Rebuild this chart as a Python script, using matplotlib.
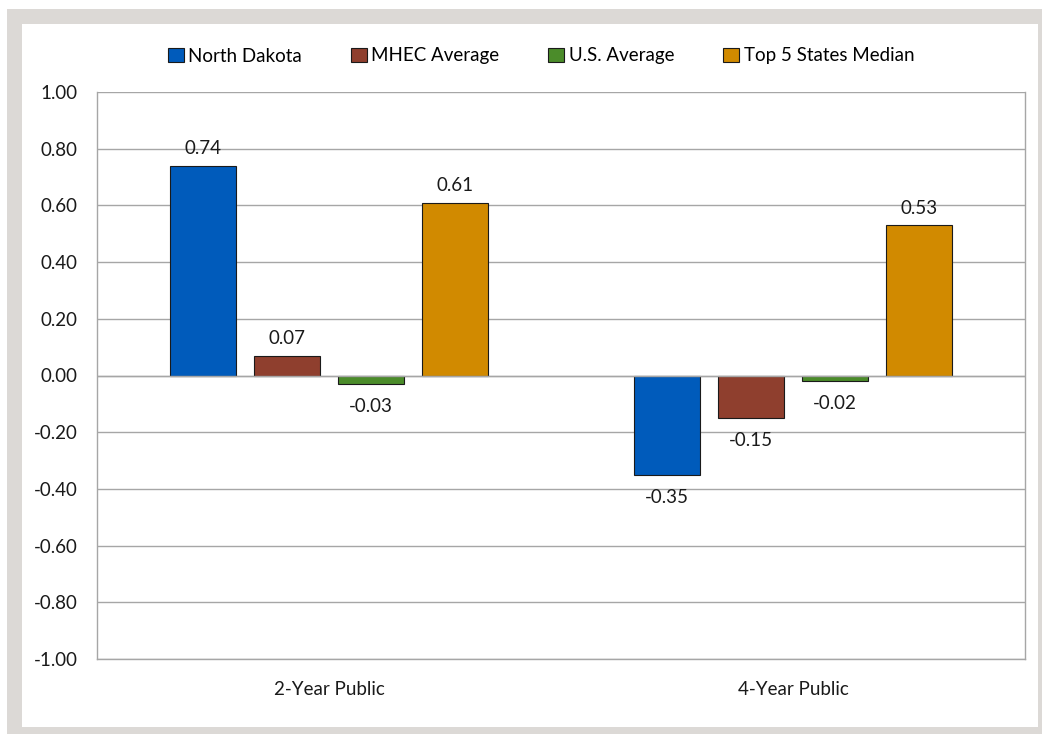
#!/usr/bin/env python3

from matplotlib import pyplot as plt
from matplotlib.patches import Rectangle
import numpy as np

categories = ["2-Year Public", "4-Year Public"]
series_names = ["North Dakota", "MHEC Average", "U.S. Average", "Top 5 States Median"]
north_dakota = [0.74, -0.35]
mhec_average = [0.07, -0.15]
us_average = [-0.03, -0.02]
top5_median = [0.61, 0.53]
y_ticks = [-1.0, -0.8, -0.6, -0.4, -0.2, 0.0, 0.2, 0.4, 0.6, 0.8, 1.0]

colors = ["#005BBB", "#8F3F2E", "#4B8C2A", "#D18A00"]
FS = 13.5


def main():
    plt.rcParams["font.family"] = ["Lato", "DejaVu Sans"]
    fig = plt.figure(figsize=(10.42, 7.34), dpi=100)

    # grey outer frame with white panel inside
    fig.patches.append(Rectangle((7 / 1042, 0), 1 - 7 / 1042, 1 - 9 / 734,
                                 transform=fig.transFigure, facecolor="#DCD9D6",
                                 edgecolor="none", zorder=-2))
    fig.patches.append(Rectangle((22 / 1042, 7 / 734), (1038 - 22) / 1042,
                                 (727 - 24) / 734, transform=fig.transFigure,
                                 facecolor="white", edgecolor="none", zorder=-1))

    ax = fig.add_axes([97 / 1042, 1 - 659 / 734, (1025 - 97) / 1042, (659 - 92) / 734])

    values = [north_dakota, mhec_average, us_average, top5_median]
    x = np.arange(len(categories))
    width = 0.144
    step = 0.181
    offsets = (np.arange(4) - 1.5) * step

    for i, (name, vals) in enumerate(zip(series_names, values)):
        bars = ax.bar(x + offsets[i], vals, width, color=colors[i], label=name,
                      edgecolor="#1a1a1a", linewidth=0.8, zorder=3)
        for b, v in zip(bars, vals):
            cx = b.get_x() + b.get_width() / 2
            if v >= 0:
                ax.annotate("%.2f" % v, (cx, v), xytext=(0, 6),
                            textcoords="offset points", ha="center", va="bottom",
                            fontsize=FS, color="#1a1a1a")
            else:
                ax.annotate("%.2f" % v, (cx, v), xytext=(0, -10),
                            textcoords="offset points", ha="center", va="top",
                            fontsize=FS, color="#1a1a1a")

    ax.set_xlim(-0.5, 1.5)
    ax.set_ylim(-1.0, 1.0)
    ax.set_yticks(y_ticks)
    ax.set_yticklabels(["%.2f" % t for t in y_ticks])
    ax.set_xticks(x)
    ax.set_xticklabels(categories)
    ax.yaxis.grid(True, color="#A6A6A6", linewidth=1.0, zorder=0)
    ax.axhline(0, color="#A6A6A6", linewidth=1.0, zorder=4)
    for side in ["left", "right", "bottom"]:
        ax.spines[side].set_color("#A6A6A6")
        ax.spines[side].set_linewidth(1.0)
    ax.spines["top"].set_visible(False)
    ax.tick_params(axis="both", length=0, labelsize=FS, colors="#1a1a1a")
    ax.tick_params(axis="y", pad=14)
    ax.tick_params(axis="x", pad=16)

    fig.legend(loc="center", bbox_to_anchor=(541 / 1042, 1 - 56 / 734), ncol=4,
               frameon=False, fontsize=FS, handlelength=0.85, handleheight=0.85,
               handletextpad=0.25, columnspacing=2.6, borderaxespad=0)

    plt.savefig("out.png", dpi=100)


if __name__ == "__main__":
    main()
